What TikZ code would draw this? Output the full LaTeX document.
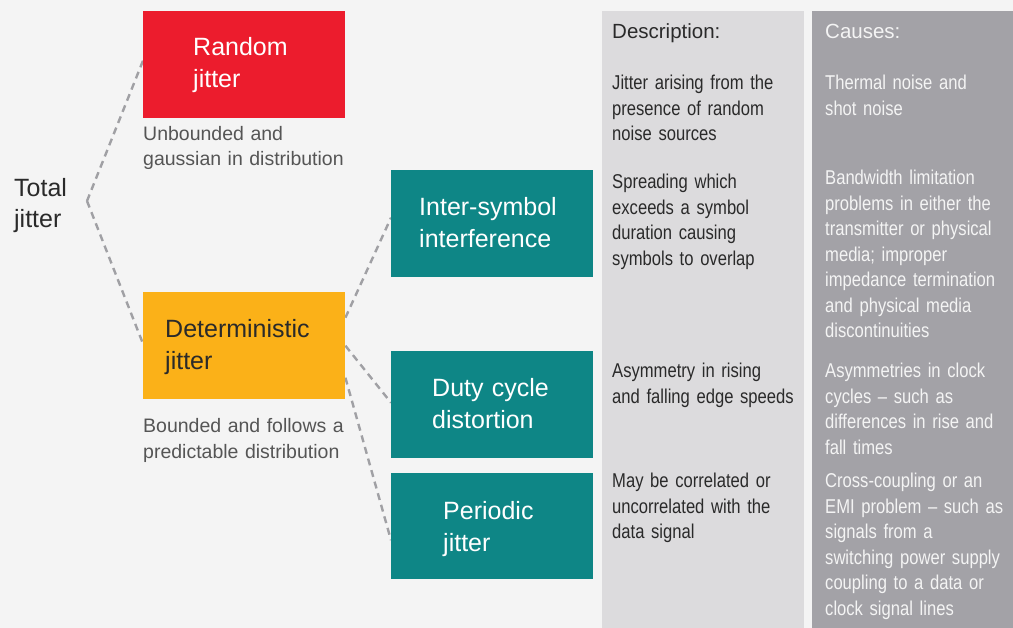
\documentclass[tikz,border=0pt]{standalone}
\usepackage{fontspec}
\setmainfont{Liberation Sans}
\newfontfamily\condfont[FakeStretch=0.83]{Liberation Sans}
\usetikzlibrary{calc}
\definecolor{bgc}{HTML}{F4F4F4}
\definecolor{jred}{HTML}{EC1C2D}
\definecolor{jyel}{HTML}{FBB118}
\definecolor{jteal}{HTML}{0E8686}
\definecolor{desccol}{HTML}{DCDBDD}
\definecolor{causecol}{HTML}{A3A2A7}
\definecolor{dashc}{HTML}{A0A0A4}
\definecolor{darktxt}{HTML}{2A2A2A}
\definecolor{subtxt}{HTML}{555555}
\definecolor{lighttxt}{HTML}{F4F4F4}
\newcommand\bigtxtfont{\fontsize{25}{32}\selectfont}
\newcommand\subtxtfont{\fontsize{19.5}{25}\selectfont}
\newcommand\coltxtfont{\condfont\fontsize{20}{25.5}\selectfont}
\newcommand\headtxtfont{\fontsize{20.5}{25}\selectfont}
\tikzset{
  boxnode/.style={draw=none, inner sep=0pt, anchor=north west, minimum width=202pt, minimum height=107pt},
  bigtxt/.style={anchor=base west, inner sep=0pt, text width=200pt, align=left, font=\bigtxtfont},
  subtext/.style={anchor=base west, inner sep=0pt, text width=230pt, align=left, font=\subtxtfont, text=subtxt},
  desctxt/.style={anchor=base west, inner sep=0pt, text width=192pt, align=left, font=\coltxtfont, text=darktxt},
  causetxt/.style={anchor=base west, inner sep=0pt, text width=188pt, align=left, font=\coltxtfont, text=lighttxt},
  conn/.style={draw=dashc, line width=2.4pt, dash pattern=on 7pt off 5pt}
}
\begin{document}
\begin{tikzpicture}[x=1pt,y=-1pt]
\fill[bgc] (0,0) rectangle (1013,628);
\useasboundingbox (0,0) rectangle (1013,628);

% columns
\node[fill=desccol, inner sep=0pt, anchor=north west, minimum width=202pt, minimum height=617pt] (dcol) at (602,11) {};
\node[fill=causecol, inner sep=0pt, anchor=north west, minimum width=201pt, minimum height=617pt] (ccol) at (812,11) {};

% total jitter
\node[bigtxt, text=darktxt, font=\fontsize{25}{31}\selectfont] (tj) at (14,197) {Total\\jitter};
\coordinate (apex) at (87,201);

% boxes (geometry)
\node[boxnode] (rj) at (143,11) {};
\node[boxnode] (det) at (143,292) {};
\node[boxnode] (isi) at (391,170) {};
\node[boxnode] (dcd) at (391,351) {};
\node[boxnode, minimum height=106pt] (pj) at (391,473) {};

% connectors
\draw[conn] (apex) -- ($(rj.west)+(0,-4)$);
\draw[conn] (apex) -- ($(det.west)+(0,-2)$);
\draw[conn] ($(det.east)+(0,-28)$) -- ($(isi.west)+(0,-6)$);
\draw[conn] ($(det.east)+(0,0)$) -- ($(dcd.west)+(0,-2)$);
\draw[conn] ($(det.east)+(0,32)$) -- ($(pj.west)+(0,14)$);

% filled boxes on top
\fill[jred] (rj.north west) rectangle (rj.south east);
\fill[jyel] (det.north west) rectangle (det.south east);
\fill[jteal] (isi.north west) rectangle (isi.south east);
\fill[jteal] (dcd.north west) rectangle (dcd.south east);
\fill[jteal] (pj.north west) rectangle (pj.south east);

% box texts
\node[bigtxt, text=white] (rjt) at (193,56) {Random\\jitter};
\node[bigtxt, text=darktxt] (dett) at (165,338) {Deterministic\\jitter};
\node[bigtxt, text=white] (isit) at (419,216) {Inter-symbol\\interference};
\node[bigtxt, text=white] (dcdt) at (432,397) {Duty cycle\\distortion};
\node[bigtxt, text=white] (pjt) at (443,519) {Periodic\\jitter};

% sub texts
\node[subtext] (rjs) at (143,141) {Unbounded and\\gaussian in distribution};
\node[subtext] (dets) at (143,433) {Bounded and follows a\\predictable distribution};

% description column
\node[desctxt, font=\headtxtfont] (dh) at (612,39) {Description:};
\node[desctxt] (d1) at (612,90) {Jitter arising from the\\presence of random\\noise sources};
\node[desctxt] (d2) at (612,189) {Spreading which\\exceeds a symbol\\duration causing\\symbols to overlap};
\node[desctxt] (d3) at (612,378) {Asymmetry in rising\\and falling edge speeds};
\node[desctxt] (d4) at (612,488) {May be correlated or\\uncorrelated with the\\data signal};

% causes column
\node[causetxt, font=\headtxtfont] (ch) at (825,39) {Causes:};
\node[causetxt] (c1) at (825,90) {Thermal noise and\\shot noise};
\node[causetxt] (c2) at (825,185) {Bandwidth limitation\\problems in either the\\transmitter or physical\\media; improper\\impedance termination\\and physical media\\discontinuities};
\node[causetxt] (c3) at (825,378) {Asymmetries in clock\\cycles – such as\\differences in rise and\\fall times};
\node[causetxt] (c4) at (825,488) {Cross-coupling or an\\EMI problem – such as\\signals from a\\switching power supply\\coupling to a data or\\clock signal lines};
\end{tikzpicture}
\end{document}
